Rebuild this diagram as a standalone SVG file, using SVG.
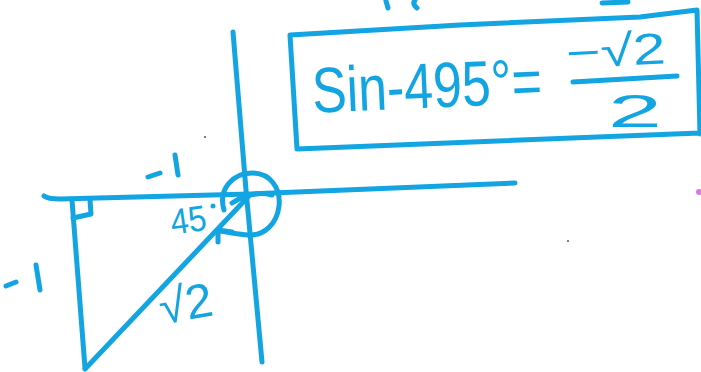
<svg xmlns="http://www.w3.org/2000/svg" width="701" height="372" viewBox="0 0 701 372">
<style>
.ln{fill:none;stroke:#12a5e2;stroke-width:5;stroke-linecap:round;stroke-linejoin:round}
.tx{fill:#12a5e2;font-family:"Liberation Sans",Arial,sans-serif}
</style>
<rect width="701" height="372" fill="#ffffff"/>
<g id="fragments">
<path class="ln" d="M386 1 L388 8" stroke-width="4"/>
<path class="ln" d="M415 0 Q412 4 417 8" stroke-width="3"/>
<path class="ln" d="M602 3 L628 2" stroke-width="6"/>
<circle cx="699" cy="192" r="3" fill="#d77be0"/>
<circle cx="205" cy="137" r="1" fill="#555"/>
<circle cx="568" cy="241" r="1" fill="#555"/>
</g>
<g id="axes">
<path class="ln" d="M233 32 L246 190 L262 362"/>
<path class="ln" d="M44 196 Q48 199 60 199 L250 194 L515 183"/>
</g>
<g id="triangle">
<path class="ln" d="M72 200 L85 368"/>
<path class="ln" d="M85 369 L248 197"/>
<path class="ln" d="M73 218 L91 214 L90 200"/>
</g>
<g id="rotation">
<path class="ln" d="M232 203 Q252 190 272 195"/>
<path class="ln" d="M224 210 C218 190 232 173 252 173 C270 173 281 188 279 206 C277 224 264 236 248 235 C236 234 226 232 220 231"/>
<path class="ln" d="M218 242 L218 230 L232 232"/>
</g>
<g id="labels">
<path class="ln" d="M148 177 L160 173"/>
<path class="ln" d="M175 155 L178 175"/>
<path class="ln" d="M6 286 L16 282"/>
<path class="ln" d="M36 265 L40 290"/>
<text class="tx" x="170" y="232" font-size="36" transform="rotate(-8 190 218)" textLength="36" lengthAdjust="spacingAndGlyphs">45</text>
<circle cx="213" cy="206" r="2.5" fill="#12a5e2"/>
<text class="tx" x="158" y="320" font-size="48" transform="rotate(-10 185 300)" textLength="54" lengthAdjust="spacingAndGlyphs">√2</text>
</g>
<g id="equation-box">
<path class="ln" d="M290 35 L297 149 L700 133 M290 35 L460 25 L640 17 L697 10 L700 134" stroke-width="4.5"/>
<text class="tx" x="312" y="108" font-size="64" textLength="230" lengthAdjust="spacingAndGlyphs" transform="rotate(-2.5 420 90)">Sin-495°=</text>
<text class="tx" x="566" y="66" font-size="44" textLength="100" lengthAdjust="spacingAndGlyphs" transform="rotate(-3 615 55)">−√2</text>
<path class="ln" d="M573 82 L677 76"/>
<text class="tx" x="608" y="127" font-size="46" textLength="54" lengthAdjust="spacingAndGlyphs">2</text>
</g>
</svg>
